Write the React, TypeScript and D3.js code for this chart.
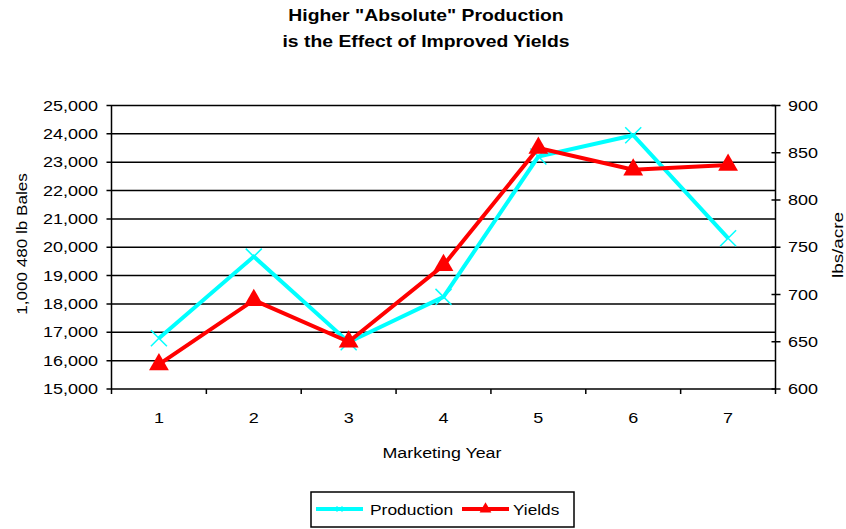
import React from "react";
import * as d3 from "d3";

const years = ["1", "2", "3", "4", "5", "6", "7"];
const production = [16790, 19670, 16650, 18250, 23200, 23950, 20320];
const yields = [626, 694, 650, 731, 855, 832, 837];
const leftTicks = [15000, 16000, 17000, 18000, 19000, 20000, 21000, 22000, 23000, 24000, 25000];
const rightTicks = [600, 650, 700, 750, 800, 850, 900];
const titleLines = ['Higher "Absolute" Production', "is the Effect of Improved Yields"];

const W = 846, H = 529;
const L = 111.5, R = 775.5, T = 105.5, B = 389;
const font = "Arial, 'Liberation Sans', sans-serif";

function Txt({ x, y, rot = 0, sx = 1.2, size = 15, anchor = "start", bold = false, children }: any) {
  return (
    <text
      transform={`translate(${x},${y}) rotate(${rot}) scale(${sx},1)`}
      textAnchor={anchor}
      fontSize={size}
      fontWeight={bold ? "bold" : "normal"}
      fill="#000"
    >
      {children}
    </text>
  );
}

export default function App() {
  const x = d3.scaleBand().domain(years).range([L, R]);
  const yL = d3.scaleLinear().domain([15000, 25000]).range([B, T]);
  const yR = d3.scaleLinear().domain([600, 900]).range([B, T]);
  const fmt = d3.format(",");
  const cx = (i: number) => (x(years[i]) as number) + x.bandwidth() / 2;
  const prodLine = d3.line<number>().x((_, i) => cx(i)).y((d) => yL(d))(production) as string;
  const yieldLine = d3.line<number>().x((_, i) => cx(i)).y((d) => yR(d))(yields) as string;
  const tri = d3.symbol().type(d3.symbolTriangle).size(170)() as string;
  const triSmall = d3.symbol().type(d3.symbolTriangle).size(60)() as string;
  const boundaries = d3.range(years.length + 1).map((i) => L + i * x.step());

  return (
    <svg width={W} height={H} style={{ position: "absolute", left: 0, top: 0, background: "#fff" }} fontFamily={font}>
      <rect width={W} height={H} fill="#fff" />
      {titleLines.map((t, i) => (
        <Txt key={i} x={426} y={20.5 + i * 26.5} anchor="middle" size={16} sx={1.21} bold>{t}</Txt>
      ))}
      {leftTicks.map((v) => (
        <g key={v}>
          <line x1={L - 5} x2={R} y1={yL(v)} y2={yL(v)} stroke="#000" strokeWidth={1.5} />
          <Txt x={98} y={yL(v) + 5} anchor="end" size={14.5} sx={1.24}>{fmt(v)}</Txt>
        </g>
      ))}
      <line x1={L} x2={L} y1={T} y2={B} stroke="#000" strokeWidth={1.5} />
      <line x1={R} x2={R} y1={T} y2={B} stroke="#000" strokeWidth={1.5} />
      {rightTicks.map((v) => (
        <g key={v}>
          <line x1={R - 4} x2={R + 5} y1={yR(v)} y2={yR(v)} stroke="#000" strokeWidth={1.5} />
          <Txt x={788} y={yR(v) + 5} anchor="start" size={14.5} sx={1.24}>{v}</Txt>
        </g>
      ))}
      {boundaries.map((bx, i) => (
        <line key={i} x1={bx} x2={bx} y1={B} y2={B + 5} stroke="#000" strokeWidth={1.5} />
      ))}
      {years.map((c, i) => (
        <Txt key={c} x={cx(i)} y={423} anchor="middle" size={15}>{c}</Txt>
      ))}
      <Txt x={442} y={458} anchor="middle" size={15} sx={1.19}>Marketing Year</Txt>
      <Txt x={27} y={244} rot={-90} anchor="middle" size={15} sx={1.14}>1,000 480 lb Bales</Txt>
      <Txt x={843} y={245} rot={-90} anchor="middle" size={15} sx={1.26}>lbs/acre</Txt>

      <path d={prodLine} fill="none" stroke="#00FFFF" strokeWidth={4} />
      {production.map((v, i) => (
        <g key={i} transform={`translate(${cx(i)},${yL(v)})`} stroke="#00FFFF" strokeWidth={1.5}>
          <line x1={-8} y1={-8} x2={8} y2={8} />
          <line x1={-8} y1={8} x2={8} y2={-8} />
        </g>
      ))}
      <path d={yieldLine} fill="none" stroke="#FF0000" strokeWidth={4} />
      {yields.map((v, i) => (
        <path key={i} d={tri} transform={`translate(${cx(i)},${yR(v)})`} fill="#FF0000" />
      ))}

      <rect x={311} y={492} width={263} height={35} fill="#fff" stroke="#000" strokeWidth={1.5} />
      <line x1={316} x2={363} y1={509} y2={509} stroke="#00FFFF" strokeWidth={4} />
      <g transform="translate(339.5,509)" stroke="#00FFFF" strokeWidth={1}>
        <line x1={-3} y1={-3} x2={3} y2={3} />
        <line x1={-3} y1={3} x2={3} y2={-3} />
      </g>
      <Txt x={370} y={514.5} size={15} sx={1.16}>Production</Txt>
      <line x1={462} x2={509} y1={509} y2={509} stroke="#FF0000" strokeWidth={4} />
      <path d={triSmall} transform="translate(485.5,509)" fill="#FF0000" />
      <Txt x={513} y={514.5} size={15} sx={1.15}>Yields</Txt>
    </svg>
  );
}
